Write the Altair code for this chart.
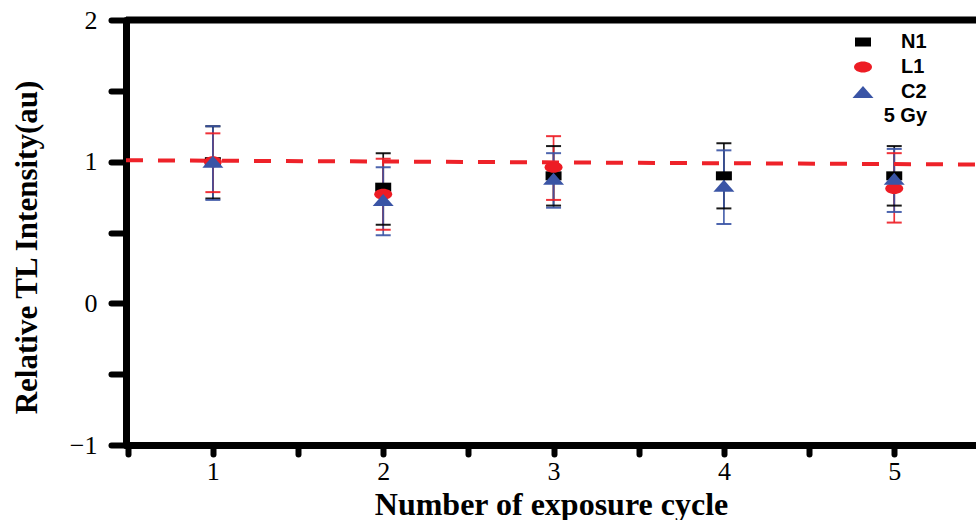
import altair as alt
import pandas as pd

# ---- data ----
cycles = [1, 2, 3, 4, 5]
series_names = ["N1", "L1", "C2"]

n1_mean = [1.00, 0.82, 0.90, 0.90, 0.90]
n1_hi = [1.25, 1.06, 1.11, 1.13, 1.11]
n1_lo = [0.74, 0.555, 0.69, 0.67, 0.69]

l1_mean = [1.00, 0.77, 0.96, None, 0.81]
l1_hi = [1.20, 1.02, 1.18, None, 1.06]
l1_lo = [0.785, 0.52, 0.73, None, 0.57]

c2_mean = [1.00, 0.73, 0.88, 0.83, 0.88]
c2_hi = [1.25, 0.96, 1.06, 1.08, 1.09]
c2_lo = [0.73, 0.48, 0.675, 0.56, 0.645]

fit_x = [0.49, 5.48]
fit_y = [1.01, 0.98]

x_domain = [0.49, 5.48]
y_domain = [-1, 2]
x_ticks = [0.5, 1, 1.5, 2, 2.5, 3, 3.5, 4, 4.5, 5]
y_ticks = [-1, -0.5, 0, 0.5, 1, 1.5, 2]

colors = ["#000000", "#ed1c24", "#3a54a5"]
shapes = [
    "M-0.8,-0.45L0.8,-0.45L0.8,0.45L-0.8,0.45Z",
    "M-0.9,0A0.9,0.55 0 1,1 0.9,0A0.9,0.55 0 1,1 -0.9,0Z",
    "M0,-0.6L1.05,0.6L-1.05,0.6Z",
]

rows = []
for name, m, hi, lo in [("N1", n1_mean, n1_hi, n1_lo),
                        ("L1", l1_mean, l1_hi, l1_lo),
                        ("C2", c2_mean, c2_hi, c2_lo)]:
    for i, c in enumerate(cycles):
        if m[i] is None:
            continue
        rows.append({"cycle": c, "series": name, "order": series_names.index(name),
                     "value": m[i], "hi": hi[i], "lo": lo[i]})
df = pd.DataFrame(rows)
fit_df = pd.DataFrame({"cycle": fit_x, "value": fit_y})
top_df = pd.DataFrame({"value": [y_domain[1]]})

xs = alt.Scale(domain=x_domain, nice=False, zero=False)
ys = alt.Scale(domain=y_domain, nice=False, zero=False)

label_expr = "datum.value % 1 === 0 ? format(datum.value, 'd') : ''"

x_axis = alt.Axis(values=x_ticks, labelExpr=label_expr,
                  title="Number of exposure cycle", titleFont="Liberation Serif",
                  titleFontWeight="bold", titleFontSize=32, titleColor="black",
                  titleY=69, titleBaseline="alphabetic",
                  tickSize=9, labelPadding=4, labelFlush=False, labelOverlap=False)
y_axis = alt.Axis(values=y_ticks, labelExpr=label_expr,
                  title="Relative TL Intensity(au)", titleFont="Liberation Serif",
                  titleFontWeight="bold", titleFontSize=31, titleColor="black",
                  titleX=-99, titleY=227, titleAngle=270, titleBaseline="middle",
                  tickSize=15, labelPadding=14, labelFlush=False, labelOverlap=False)

X = alt.X("cycle:Q", scale=xs, axis=x_axis)
Y = alt.Y("value:Q", scale=ys, axis=y_axis)

color_scale = alt.Scale(domain=series_names, range=colors)
shape_scale = alt.Scale(domain=series_names, range=shapes)

legend = alt.Legend(orient="none", legendX=727, legendY=12, title="5 Gy",
                    titleOrient="bottom", titleAnchor="end")
C = alt.Color("series:N", scale=color_scale, legend=legend)

top_rule = alt.Chart(top_df).mark_rule(color="black", strokeWidth=7).encode(y=Y)

fit = alt.Chart(fit_df).mark_line(color="#ee2229", strokeWidth=4, strokeDash=[17, 15]).encode(x=X, y=Y)

err = alt.Chart(df).mark_rule(strokeWidth=1.7, opacity=0.9).encode(
    x=X,
    y=alt.Y("lo:Q", scale=ys, axis=y_axis),
    y2="hi:Q",
    color=C,
    order="order:Q",
)
cap_hi = alt.Chart(df).mark_tick(orient="horizontal", size=15, thickness=2, opacity=0.9).encode(
    x=X,
    y=alt.Y("hi:Q", scale=ys, axis=y_axis),
    color=C,
)
cap_lo = alt.Chart(df).mark_tick(orient="horizontal", size=15, thickness=2, opacity=0.9).encode(
    x=X,
    y=alt.Y("lo:Q", scale=ys, axis=y_axis),
    color=C,
)

pts = alt.Chart(df).mark_point(filled=True, size=400, opacity=1, strokeWidth=0).encode(
    x=X, y=Y,
    color=C,
    shape=alt.Shape("series:N", scale=shape_scale, legend=legend),
    order="order:Q",
)

chart = alt.layer(err, cap_hi, cap_lo, fit, pts, top_rule).properties(
    width=850, height=425,
    padding={"left": 126, "top": 20, "right": 0, "bottom": 75},
    autosize=alt.AutoSizeParams(type="none"),
    background="white",
).configure_view(stroke=None).configure_axis(
    grid=False,
    domainColor="black", domainWidth=7, domainCap="round",
    tickColor="black", tickWidth=6, tickCap="round",
    labelFont="Liberation Serif", labelFontSize=26, labelColor="black",
).configure_legend(
    labelFont="Liberation Sans", labelFontWeight="bold", labelFontSize=20, labelColor="black",
    titleFont="Liberation Sans", titleFontWeight="bold", titleFontSize=20, titleColor="black",
    symbolSize=400, symbolStrokeWidth=0, symbolOpacity=1, labelOffset=28, rowPadding=5, padding=0,
    titlePadding=4,
)

chart.save("out.html", embed_options={"renderer": "svg", "actions": False})
